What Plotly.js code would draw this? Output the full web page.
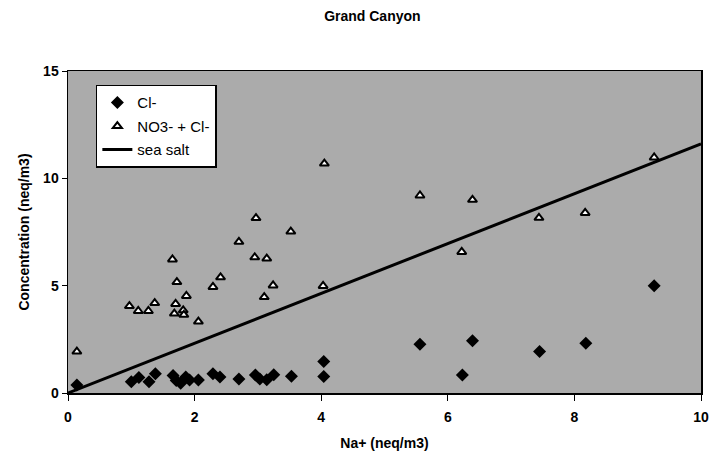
<!DOCTYPE html>
<html>
<head>
<meta charset="utf-8">
<script src="https://cdn.plot.ly/plotly-3.0.1.min.js"></script>
<style>html,body{margin:0;padding:0;background:#fff;}#chart{width:712px;height:459px;}</style>
</head>
<body>
<div id="chart"></div>
<script>
// Cl- (diamonds)
const clNa = [0.14,1.00,1.12,1.28,1.38,1.66,1.71,1.78,1.86,1.92,2.06,2.29,2.40,2.70,2.96,3.03,3.14,3.25,3.53,4.04,4.04,5.56,6.23,6.39,7.45,8.18,9.26];
const clConc = [0.37,0.52,0.72,0.52,0.90,0.82,0.58,0.45,0.75,0.60,0.60,0.90,0.75,0.65,0.84,0.65,0.62,0.85,0.78,1.47,0.77,2.27,0.84,2.43,1.93,2.32,5.00];
// NO3- + Cl- (triangles)
const nclNa = [0.14,0.97,1.11,1.27,1.37,1.65,1.72,1.70,1.68,1.82,1.83,1.87,2.06,2.29,2.41,2.70,2.95,2.97,3.14,3.10,3.24,3.52,4.03,4.05,5.56,6.22,6.39,7.44,8.17,9.26];
const nclConc = [1.93,4.05,3.82,3.82,4.19,6.22,5.17,4.15,3.70,3.85,3.64,4.52,3.33,4.94,5.39,7.04,6.32,8.15,6.26,4.47,5.01,7.52,4.99,10.69,9.20,6.57,9.00,8.16,8.39,10.97];
// sea salt line
const seaNa = [0, 10];
const seaConc = [0, 11.6];
// tick labels
const xTicks = [0, 2, 4, 6, 8, 10];
const yTicks = [0, 5, 10, 15];

const font = {family: 'Liberation Sans, Arial, sans-serif', color: '#000'};
const boldFont = s => Object.assign({size: s, weight: 'bold'}, font);

const traces = [
  {x: clNa, y: clConc, mode: 'markers', name: 'Cl-', legendgroup: 'a',
   marker: {symbol: 'diamond', size: 10, color: '#000'}},
  {x: nclNa, y: nclConc, mode: 'markers', name: 'NO3- + Cl-', legendgroup: 'b',
   marker: {symbol: 'triangle-up', size: 8, color: '#fff', line: {color: '#000', width: 2}}},
  {x: seaNa, y: seaConc, mode: 'lines', name: 'sea salt', legendgroup: 'c',
   line: {color: '#000', width: 3}}
];

const layout = {
  width: 712, height: 459,
  margin: {l: 68, r: 11, t: 71, b: 66},
  paper_bgcolor: '#fff',
  plot_bgcolor: '#ababab',
  showlegend: true,
  title: {text: 'Grand Canyon', x: 0.523, xanchor: 'center', y: 0.965, yanchor: 'middle',
          font: boldFont(14)},
  xaxis: {range: [0, 10], tickmode: 'array', tickvals: xTicks, ticktext: xTicks.map(String),
          showgrid: false, zeroline: false,
          showline: true, linecolor: '#000', linewidth: 1.5, mirror: true,
          ticks: 'outside', ticklen: 6, tickcolor: '#000',
          ticklabeloverflow: 'allow', ticklabelstandoff: 5,
          tickfont: boldFont(14),
          title: {text: 'Na+ (neq/m3)', font: boldFont(14), standoff: 14}},
  yaxis: {range: [0, 15], tickmode: 'array', tickvals: yTicks, ticktext: yTicks.map(String),
          showgrid: false, zeroline: false,
          showline: true, linecolor: '#000', linewidth: 1.5, mirror: true,
          ticks: 'outside', ticklen: 5, tickcolor: '#000',
          ticklabeloverflow: 'allow',
          tickfont: boldFont(14),
          title: {text: 'Concentration (neq/m3)', font: boldFont(14), standoff: 10}},
  legend: {x: 0.044, y: 0.957, xanchor: 'left', yanchor: 'top',
           bgcolor: '#fff', bordercolor: '#000', borderwidth: 1.5,
           tracegroupgap: 1, font: Object.assign({size: 15}, font)}
};

Plotly.newPlot('chart', traces, layout, {displayModeBar: false, staticPlot: true});
</script>
</body>
</html>
